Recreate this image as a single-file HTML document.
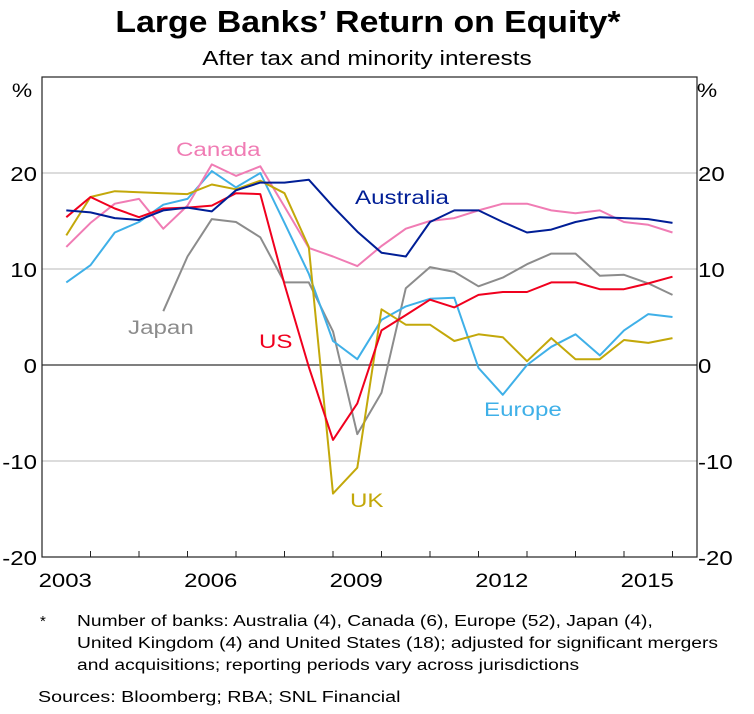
<!DOCTYPE html>
<html><head><meta charset="utf-8"><style>
body{margin:0;background:#fff;}
svg text{font-family:"Liberation Sans",Arial,sans-serif;}
</style></head><body>
<svg width="754" height="709" viewBox="0 0 754 709" id="chart">
<text x="368" y="32" text-anchor="middle" font-size="31" font-weight="bold" data-sx="1.09">Large Banks’ Return on Equity*</text>
<text x="367" y="65" text-anchor="middle" font-size="20.5" data-sx="1.19">After tax and minority interests</text>
<text x="22" y="97" text-anchor="middle" font-size="19" data-sx="1.2">%</text>
<text x="707" y="97" text-anchor="middle" font-size="19" data-sx="1.2">%</text>
<g id="grid"></g>
<g id="series"></g>
<g id="axes"></g>
<text x="176" y="156" font-size="19" fill="#f07cb4" data-sx="1.27">Canada</text>
<text x="355" y="204" font-size="19" fill="#001e96" data-sx="1.27">Australia</text>
<text x="128" y="334" font-size="19" fill="#8c8c8c" data-sx="1.27">Japan</text>
<text x="259" y="348" font-size="19" fill="#f0001e" data-sx="1.27">US</text>
<text x="484" y="416" font-size="19" fill="#3fb0e8" data-sx="1.27">Europe</text>
<text x="350" y="507" font-size="19" fill="#c3a80a" data-sx="1.27">UK</text>
<text x="40" y="626" font-size="15">*</text>
<text x="77" y="626" font-size="15.5" data-sx="1.24">Number of banks: Australia (4), Canada (6), Europe (52), Japan (4),</text>
<text x="77" y="648" font-size="15.5" data-sx="1.24">United Kingdom (4) and United States (18); adjusted for significant mergers</text>
<text x="77" y="670" font-size="15.5" data-sx="1.24">and acquisitions; reporting periods vary across jurisdictions</text>
<text x="38" y="702" font-size="15.5" data-sx="1.27">Sources:  Bloomberg; RBA; SNL Financial</text>
</svg>
<script>
const yTicks=[30,20,10,0,-10,-20];
const yTickLabels=["","20","10","0","-10","-20"];
const xYearLabels=["2003","2006","2009","2012","2015"];
const xYearValues=[2003,2006,2009,2012,2015];
const startPeriod=2003.5;
const australia=[16.1,15.9,15.3,15.1,16.1,16.4,16.0,18.2,19.0,19.0,19.3,16.5,13.9,11.7,11.3,14.9,16.1,16.1,14.9,13.8,14.1,14.9,15.4,15.3,15.2,14.8];
const canada=[12.3,14.8,16.8,17.3,14.2,16.6,20.9,19.7,20.7,16.5,12.2,11.3,10.3,12.4,14.2,15.0,15.3,16.1,16.8,16.8,16.1,15.8,16.1,14.9,14.6,13.8];
const us=[15.4,17.5,16.3,15.4,16.3,16.4,16.6,17.9,17.8,8.4,-0.2,-7.8,-4.0,3.6,5.2,6.8,6.0,7.3,7.6,7.6,8.6,8.6,7.9,7.9,8.5,9.2];
const europe=[8.6,10.4,13.8,14.9,16.7,17.3,20.2,18.5,20.0,14.8,9.5,2.5,0.6,4.7,6.1,6.9,7.0,-0.3,-3.1,0.0,1.9,3.2,1.0,3.6,5.3,5.0];
const japan=[null,null,null,null,5.6,11.3,15.2,14.9,13.3,8.6,8.6,3.5,-7.2,-2.9,8.0,10.2,9.7,8.2,9.1,10.5,11.6,11.6,9.3,9.4,8.5,7.3];
const uk=[13.5,17.5,18.1,18.0,17.9,17.8,18.8,18.3,19.2,17.9,12.3,-13.4,-10.7,5.8,4.2,4.2,2.5,3.2,2.9,0.4,2.8,0.6,0.6,2.6,2.3,2.8];

const L=42,R=697,T=77,B=557;
const x=t=>L+(t-2003)*48.5;
const y=v=>365-v*9.6;
const NS="http://www.w3.org/2000/svg";
function mk(tag,attrs,parent){const e=document.createElementNS(NS,tag);for(const k in attrs)e.setAttribute(k,attrs[k]);parent.appendChild(e);return e;}
const grid=document.getElementById('grid'),axes=document.getElementById('axes'),ser=document.getElementById('series');
yTicks.forEach((v,i)=>{
  if(v!==30&&v!==-20){
    const g=mk('line',{x1:L,x2:R,y1:y(v),y2:y(v),stroke:v===0?'#555':'#c8c8c8','stroke-width':v===0?1.5:1.2},grid);
    
    
  }
  if(yTickLabels[i]){
    const a=mk('text',{x:L-5,y:y(v)+8,'text-anchor':'end','font-size':20,'data-sx':1.2},axes);a.textContent=yTickLabels[i];
    
    
    const b=mk('text',{x:R+1,y:y(v)+8,'text-anchor':'start','font-size':20,'data-sx':1.2},axes);b.textContent=yTickLabels[i];
    
    
  }
});
const frame=mk('rect',{x:L,y:T,width:R-L,height:B-T,fill:'none',stroke:'#222','stroke-width':1.2},axes);


for(let yr=2004;yr<=2016;yr++){
  const tk=mk('line',{x1:x(yr),x2:x(yr),y1:B,y2:B-6,stroke:'#222','stroke-width':1},axes);
  
  
}
xYearValues.forEach((yr,i)=>{
  const t=mk('text',{x:x(yr+0.5)-1,y:B+30,'text-anchor':'middle','font-size':19,'data-sx':1.26},axes);t.textContent=xYearLabels[i];
  
  
});
function draw(data,color,name){
  let d='',pen=false;
  data.forEach((v,i)=>{if(v===null){pen=false;return;}const px=x(startPeriod+0.5*i),py=y(v);d+=(pen?'L':'M')+px.toFixed(1)+','+py.toFixed(1);pen=true;});
  const p=mk('path',{d:d,fill:'none',stroke:color,'stroke-width':2,'stroke-linejoin':'round'},ser);
  
  
}
draw(japan,'#8c8c8c','japan-line');
draw(europe,'#3fb0e8','europe-line');
draw(canada,'#f07cb4','canada-line');
draw(uk,'#c3a80a','uk-line');
draw(us,'#f0001e','us-line');
draw(australia,'#001e96','australia-line');
document.querySelectorAll('text[data-sx]').forEach(t=>{
  const w=t.getComputedTextLength();
  t.setAttribute('textLength',(w*parseFloat(t.getAttribute('data-sx'))).toFixed(1));
  t.setAttribute('lengthAdjust','spacingAndGlyphs');
});
</script>
</body></html>
